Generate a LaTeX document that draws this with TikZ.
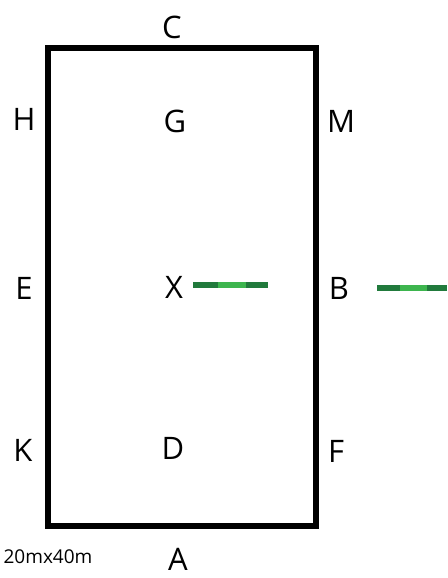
\documentclass[tikz,border=0pt]{standalone}
\usepackage{fontspec}
\setmainfont{Open Sans}
\definecolor{gdark}{HTML}{217A3C}
\definecolor{glight}{HTML}{3DB54E}
\begin{document}
\begin{tikzpicture}[x=1pt,y=-1pt,
  lbl/.style={font=\fontsize{31}{31}\selectfont, inner sep=0pt, anchor=center},
  small/.style={font=\fontsize{19}{19}\selectfont, inner sep=0pt, anchor=center},
  field/.style={draw=black, line width=6.5pt},
  gd/.style={draw=gdark, line width=6pt},
  gl/.style={draw=glight, line width=6pt}]
\useasboundingbox (0,0) rectangle (447,578);
\draw[field] (48,48) rectangle (316,526);
\node[lbl] (C) at (172,27) {C};
\node[lbl] (H) at (24,119) {H};
\node[lbl] (G) at (175,121) {G};
\node[lbl] (M) at (341,121) {M};
\node[lbl] (E) at (24,288) {E};
\node[lbl] (X) at (174,287) {X};
\node[lbl] (B) at (339,288) {B};
\node[lbl] (K) at (23,450) {K};
\node[lbl] (D) at (173,448) {D};
\node[lbl] (F) at (336,451) {F};
\node[lbl] (A) at (178,559) {A};
\node[small] (dim) at (48,557) {20mx40m};
% green markers
\draw[gd] (193,284.5) -- (218,284.5);
\draw[gl] (218,284.5) -- (246,284.5);
\draw[gd] (246,284.5) -- (268,284.5);
\draw[gd] (377,287.5) -- (400,287.5);
\draw[gl] (400,287.5) -- (427,287.5);
\draw[gd] (427,287.5) -- (447,287.5);
\end{tikzpicture}
\end{document}
